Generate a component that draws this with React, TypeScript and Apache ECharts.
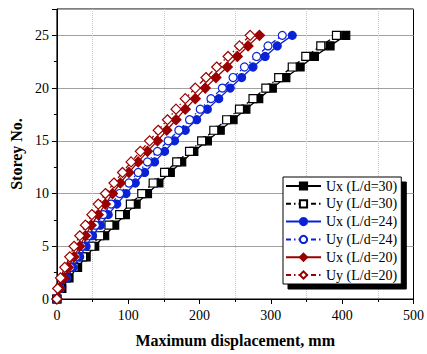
import React, { useEffect, useRef } from "react";
import * as echarts from "echarts";

const storeys = Array.from({ length: 26 }, (_, i) => i);
const uxL30 = [0, 7, 17, 29, 41, 53, 67, 81, 96, 111, 127, 143, 159, 175, 192, 211, 229, 247, 265, 283, 302, 321, 341, 361, 383, 405];
const uyL30 = [0, 5, 13, 24, 36, 48, 60, 73, 88, 103, 119, 135, 151, 168, 186, 203, 220, 238, 256, 275, 293, 311, 330, 349, 370, 392];
const uxL24 = [0, 5, 14, 23, 32, 41, 50, 61, 72, 84, 97, 110, 123, 137, 151, 165, 180, 196, 211, 227, 243, 259, 275, 292, 309, 330];
const uyL24 = [0, 3, 10, 19, 27, 35, 44, 54, 65, 76, 88, 101, 114, 127, 141, 156, 171, 186, 201, 216, 232, 247, 263, 280, 296, 316];
const uxL20 = [0, 4, 10, 16, 24, 32, 40, 48, 58, 68, 78, 89, 101, 114, 127, 141, 154, 167, 180, 194, 208, 223, 239, 253, 268, 284];
const uyL20 = [0, 1, 5, 11, 18, 24, 32, 40, 49, 58, 68, 80, 92, 104, 117, 130, 142, 155, 167, 180, 194, 209, 224, 240, 256, 271];

const seriesNames = ["Ux (L/d=30)", "Uy (L/d=30)", "Ux (L/d=24)", "Uy (L/d=24)", "Ux (L/d=20)", "Uy (L/d=20)"];
const seriesValues = [uxL30, uyL30, uxL24, uyL24, uxL20, uyL20];
const seriesColors = ["#000000", "#000000", "#0a22d6", "#0a22d6", "#9a0000", "#9a0000"];
const seriesSymbols = ["rect", "rect", "circle", "circle", "diamond", "diamond"];
const seriesFilled = [true, false, true, false, true, false];

const FONT = "Liberation Serif";

export default function App() {
  const ref = useRef<HTMLDivElement>(null);
  useEffect(() => {
    const chart = echarts.init(ref.current!, null, { renderer: "svg" });
    const series = seriesNames.map((name, k) => ({
      name,
      type: "line",
      data: seriesValues[k].map((v, i) => [v, storeys[i]]),
      symbol: seriesSymbols[k],
      symbolSize: seriesSymbols[k] === "diamond" ? 10 : 8,
      showSymbol: true,
      lineStyle: {
        color: seriesColors[k],
        width: 1.3,
        type: seriesFilled[k] ? "solid" : [5, 3, 1.5, 3],
      },
      itemStyle: {
        color: seriesFilled[k] ? seriesColors[k] : "#ffffff",
        borderColor: seriesColors[k],
        borderWidth: 1.2,
      },
      z: 2 + k,
    }));
    chart.setOption({
      animation: false,
      backgroundColor: "#ffffff",
      grid: {
        left: 56,
        right: 10,
        top: 9,
        bottom: 55,
        show: true,
        borderColor: "#000",
        borderWidth: 1,
        backgroundColor: "transparent",
      },
      xAxis: {
        type: "value",
        min: 0,
        max: 500,
        interval: 100,
        name: "Maximum displacement, mm",
        nameLocation: "middle",
        nameGap: 33,
        nameTextStyle: { fontFamily: FONT, fontWeight: "bold", fontSize: 16, color: "#000" },
        axisLine: { show: true, lineStyle: { color: "#000", width: 1 } },
        axisTick: { show: true, inside: false, length: 5, lineStyle: { color: "#000" } },
        minorTick: { show: true, splitNumber: 2, length: 3, lineStyle: { color: "#000" } },
        axisLabel: { fontFamily: FONT, fontSize: 14, color: "#000", margin: 9 },
        splitLine: { show: false },
        minorSplitLine: { show: true, lineStyle: { color: "#c8c8c8", type: "dotted", width: 1 } },
      },
      yAxis: {
        type: "value",
        min: 0,
        max: 27.5,
        interval: 5,
        name: "Storey No.",
        nameLocation: "middle",
        nameGap: 30,
        nameTextStyle: { fontFamily: FONT, fontWeight: "bold", fontSize: 16, color: "#000" },
        axisLine: { show: true, lineStyle: { color: "#000", width: 1 } },
        axisTick: { show: true, inside: false, length: 5, lineStyle: { color: "#000" } },
        minorTick: { show: true, splitNumber: 2, length: 3, lineStyle: { color: "#000" } },
        axisLabel: { fontFamily: FONT, fontSize: 14, color: "#000", margin: 8, showMaxLabel: false },
        splitLine: { show: true, lineStyle: { color: "#a0a0a0", width: 1 } },
      },
      legend: {
        orient: "vertical",
        left: 283,
        top: 177,
        itemWidth: 35,
        itemHeight: 9,
        itemGap: 3.8,
        padding: [2, 4, 2, 2],
        backgroundColor: "#fff",
        borderColor: "#000",
        borderWidth: 1,
        shadowColor: "#000",
        shadowOffsetX: 5,
        shadowOffsetY: 5,
        shadowBlur: 0,
        textStyle: { fontFamily: FONT, fontSize: 14, color: "#000" },
        data: seriesNames,
      },
      series,
    });
    return () => chart.dispose();
  }, []);
  return <div ref={ref} style={{ width: 427, height: 354, position: "absolute", left: 0, top: 0 }} />;
}
